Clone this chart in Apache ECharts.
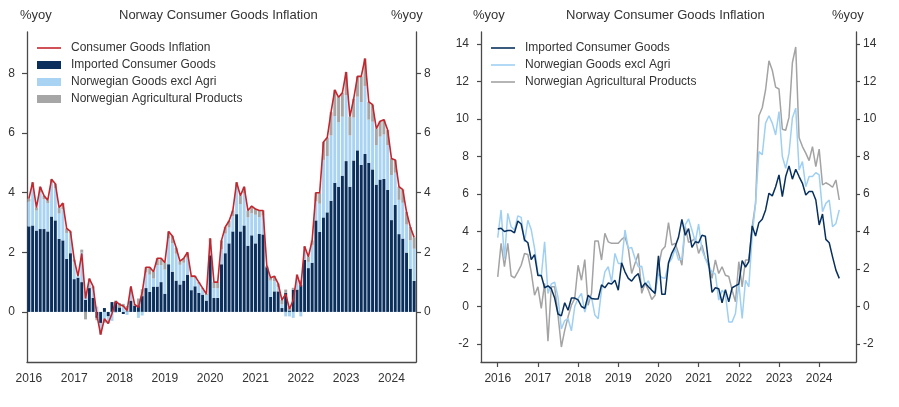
<!DOCTYPE html>
<html>
<head>
<meta charset="utf-8">
<script src="https://cdn.jsdelivr.net/npm/echarts@6/dist/echarts.min.js"></script>
<style>
  body { margin: 0; background: #fff; }
  #left { position: absolute; left: 0; top: 0; width: 450px; height: 407px; }
  #right { position: absolute; left: 450px; top: 0; width: 449px; height: 407px; }
</style>
</head>
<body>
<div id="left"></div>
<div id="right"></div>
<script>
// monthly, Jan 2016 .. Jul 2024
var years = [2016, 2017, 2018, 2019, 2020, 2021, 2022, 2023, 2024];
var padBefore = ['2015-08', '2015-09', '2015-10', '2015-11', '2015-12'];
var padAfter = ['2024-08', '2024-09', '2024-10', '2024-11', '2024-12'];

// left panel: contributions, %-points
var totalInfl = [
  3.8, 4.35, 3.5, 4.2, 3.9, 3.75, 4.45, 4.3, 3.5, 3.65, 2.8, 2.7,
  1.76, 1.2, 1.96, 0.45, 1.12, 0.86, -0.1, -0.76, -0.23, -0.39, -0.05, 0.35,
  0.25, 0.2, 0.05, 0.86, 0.25, 0.15, 0.65, 1.5, 1.5, 1.35, 1.8, 1.8,
  1.65, 2.7, 2.55, 2.15, 1.7, 1.8, 2.0, 1.2, 1.2, 1.0, 0.8, 0.6,
  2.47, 1.0, 1.0, 2.4, 2.85, 3.05, 3.4, 4.35, 3.9, 4.2, 3.4, 3.55,
  3.45, 3.4, 3.4, 1.55, 1.15, 1.2, 0.95, 0.4, 0.6, 0.1, 0.4, 1.25,
  0.85, 2.2, 1.85, 2.4, 4.0, 4.0, 5.7, 5.85, 6.7, 7.45, 7.2, 7.35,
  8.05, 6.55, 7.15, 7.9, 7.9, 8.5, 7.05, 6.95, 6.15, 6.4, 6.45, 6.1,
  5.15, 5.1, 4.2, 4.1, 3.35, 2.85, 2.5
];
var importedContrib = [
  2.87, 2.9, 2.73, 2.78, 2.78, 2.7, 3.2, 3.07, 2.45, 2.4, 1.78, 1.97,
  1.1, 1.15, 1.0, 0.4, 0.8, 0.47, -0.2, -0.37, 0.13, -0.15, 0.33, 0.35,
  0.15, -0.07, 0.02, 0.38, 0.2, 0.22, 0.53, 0.8, 0.67, 0.85, 0.85, 1.0,
  0.61, 1.6, 1.35, 1.05, 0.92, 1.05, 1.25, 0.73, 0.86, 0.64, 0.58, 0.38,
  1.9, 0.47, 0.47, 1.6, 1.97, 2.3, 2.7, 3.28, 2.7, 2.9, 2.22, 2.57,
  2.3, 2.62, 2.6, 1.5, 0.5, 0.69, 0.69, 0.13, 0.64, 0.05, 0.75, 0.75,
  0.9, 1.75, 1.47, 1.65, 3.07, 2.68, 3.17, 3.34, 3.73, 4.33, 4.2, 4.57,
  5.06, 4.2, 5.08, 5.42, 4.93, 5.3, 5.0, 4.78, 4.27, 4.44, 4.46, 4.09,
  3.08, 3.59, 2.61, 2.46, 1.99, 1.45, 1.04
];
var norwegianContrib = [
  0.83, 1.3, 0.67, 1.22, 1.0, 0.95, 1.13, 1.08, 0.85, 1.05, 0.87, 0.68,
  0.58, 0.05, 0.99, 0.3, 0.24, 0.31, 0.18, -0.24, -0.26, -0.19, -0.3, -0.03,
  0.0, 0.17, -0.1, 0.45, 0.0, -0.2, -0.12, 0.52, 0.58, 0.27, 0.72, 0.57,
  0.81, 0.86, 0.95, 0.9, 0.66, 0.6, 0.57, 0.42, 0.26, 0.3, 0.19, 0.18,
  0.43, 0.33, 0.32, 0.51, 0.66, 0.53, 0.51, 0.92, 0.92, 1.07, 0.95, 0.74,
  0.96, 0.56, 0.63, 0.0, 0.55, 0.34, 0.14, 0.13, -0.15, -0.15, -0.2, 0.48,
  -0.15, 0.38, 0.21, 0.58, 0.63, 0.95, 1.93, 1.89, 2.19, 2.24, 2.16, 1.98,
  2.21, 1.72, 1.44, 1.8, 2.11, 2.28, 1.45, 1.6, 1.33, 1.44, 1.49, 1.51,
  1.51, 1.08, 1.15, 1.2, 0.94, 0.95, 1.08
];
var agriContrib = [
  0.1, 0.15, 0.1, 0.2, 0.12, 0.1, 0.12, 0.15, 0.2, 0.2, 0.15, 0.05,
  0.08, 0.0, 0.1, -0.25, 0.08, 0.08, -0.08, -0.15, -0.1, -0.05, 0.0, 0.03,
  0.15, 0.1, 0.18, 0.0, 0.05, 0.23, 0.23, 0.18, 0.25, 0.23, 0.23, 0.23,
  0.23, 0.24, 0.25, 0.2, 0.12, 0.15, 0.18, 0.05, 0.08, 0.06, 0.03, 0.04,
  0.14, 0.2, 0.21, 0.29, 0.22, 0.22, 0.19, 0.15, 0.28, 0.23, 0.23, 0.24,
  0.19, 0.22, 0.17, 0.05, 0.1, 0.17, 0.12, 0.14, 0.11, 0.1, 0.06, 0.02,
  0.16, 0.07, 0.17, 0.17, 0.3, 0.37, 0.6, 0.62, 0.78, 0.88, 0.84, 0.8,
  0.78, 0.63, 0.63, 0.68, 0.86, 0.92, 0.6, 0.57, 0.55, 0.52, 0.5, 0.5,
  0.56, 0.43, 0.44, 0.44, 0.42, 0.45, 0.38
];

// right panel: component inflation, %yoy
var importedYoy = [
  4.13, 4.17, 4.0, 4.05, 4.05, 3.93, 4.56, 4.4, 3.55, 3.4, 2.5, 2.77,
  1.65, 1.65, 1.0, 1.1, 0.95, 0.45, -0.4, -0.5, 0.2, -0.2, 0.45, 0.45,
  0.35, 0.0, -0.1, 0.6, 0.43, 0.4, 0.4, 1.15, 1.0, 1.25, 1.2, 1.4,
  0.87, 2.33, 1.85, 1.5, 1.35, 1.6, 1.75, 1.0, 1.25, 1.05, 0.87, 0.7,
  2.7, 0.65, 0.65, 2.33, 2.85, 3.2, 3.7, 4.65, 3.8, 4.15, 3.15, 3.45,
  3.4, 3.8, 3.75, 2.3, 0.75, 1.0, 0.95, 0.2, 0.9, 0.25, 1.0, 1.1,
  1.2, 2.45, 2.1, 2.4, 4.3, 3.76, 4.47, 4.65, 5.15, 6.04, 5.9, 6.39,
  7.02, 5.86, 6.93, 7.5, 6.79, 7.32, 6.93, 6.57, 5.95, 6.13, 6.13, 5.68,
  4.35, 4.93, 3.58, 3.4, 2.65, 1.94, 1.5
];
var norwegianYoy = [
  3.67, 5.15, 2.55, 4.97, 4.25, 4.08, 4.83, 4.75, 3.45, 4.6, 4.1, 3.1,
  1.75, 1.6, 3.45, 0.7, 1.2, 1.3, 0.5, -1.2, -0.75, -0.65, -1.3, 0.0,
  0.43, 0.7, -0.3, 0.38, 0.5, -0.45, -0.65, 0.87, 1.85, 2.12, 1.3, 2.83,
  2.3, 2.3, 4.08, 3.1, 3.15, 2.56, 2.12, 2.15, 1.14, 1.37, 0.87, 0.7,
  1.76, 1.55, 1.5, 2.3, 2.56, 3.1, 2.48, 2.56, 4.35, 4.67, 4.08, 3.45,
  4.4, 3.0, 2.56, 2.12, 1.85, 1.73, 0.34, 0.87, 0.64, -0.82, -0.82, -0.37,
  1.23, -0.64, 1.4, 1.05, 3.8, 5.5, 8.26, 8.09, 9.78, 10.17, 9.78, 9.15,
  10.4, 8.0, 7.37, 8.18, 10.05, 10.58, 7.28, 7.73, 6.39, 6.93, 6.93, 7.14,
  7.02, 5.06, 5.5, 5.68, 4.25, 4.43, 5.15
];
var agriYoy = [
  1.58, 3.37, 2.12, 3.37, 1.64, 1.53, 1.85, 2.2, 2.83, 2.77, 1.85, 0.6,
  1.05, -0.1, 1.23, -1.85, 1.05, 1.05, -0.46, -2.16, -1.27, -0.55, 0.07, 0.43,
  2.2, 1.4, 2.5, 0.07, 0.7, 3.5, 3.5, 2.48, 3.9, 3.45, 3.37, 3.37,
  3.37, 3.58, 3.72, 3.1, 1.76, 2.3, 2.83, 0.7, 1.23, 0.87, 0.37, 0.6,
  2.12, 3.0, 3.2, 4.47, 3.28, 3.37, 2.83, 2.2, 4.26, 3.42, 3.5, 3.63,
  2.83, 3.28, 2.56, 2.3, 1.5, 2.48, 1.76, 2.12, 1.67, 1.6, 0.87, 0.25,
  2.39, 1.05, 2.48, 2.48, 4.26, 5.5, 10.17, 10.6, 11.56, 13.1, 12.6, 11.7,
  11.6, 9.45, 9.4, 10.1, 13.0, 13.84, 9.0, 8.53, 8.18, 7.78, 8.53, 7.46,
  8.39, 6.48, 6.6, 6.5, 6.36, 6.75, 5.68
];

var months = [];
years.forEach(function (y) {
  for (var m = 1; m <= 12; m++) months.push(y + '-' + (m < 10 ? '0' + m : m));
});
months = months.slice(0, totalInfl.length);
var monthsWide = padBefore.concat(months, padAfter);
function pad(arr) {
  return padBefore.map(function () { return '-'; }).concat(arr, padAfter.map(function () { return '-'; }));
}

var FONT = '"Liberation Sans", Arial, sans-serif';
var AXIS = '#4a4a4a';
var TXT = '#333';
function isJan(i, v) { return String(v).slice(5) === '01'; }

function xAxisOf(data, gap) {
  return {
    type: 'category', data: data, boundaryGap: gap,
    axisLine: { onZero: false, lineStyle: { color: AXIS, width: 1.3 } },
    axisTick: { alignWithLabel: true, interval: isJan, length: 5, lineStyle: { color: AXIS, width: 1.2 } },
    axisLabel: { interval: isJan, formatter: function (v) { return v.slice(0, 4); },
                 margin: 11, color: TXT, fontSize: 12, fontFamily: FONT },
    splitLine: { show: false }
  };
}
function yAxisOf(min, max, split, side, margin, tick) {
  return {
    type: 'value', min: min, max: max, splitNumber: split, position: side,
    axisLine: { show: true, lineStyle: { color: AXIS, width: 1.3 } },
    axisTick: { show: true, length: tick, lineStyle: { color: AXIS, width: 1.2 } },
    axisLabel: { margin: margin, color: TXT, fontSize: 12, fontFamily: FONT,
                 showMinLabel: false, showMaxLabel: false,
                 formatter: function (v) { return Math.abs(v - Math.round(v)) < 1e-6 ? String(Math.round(v)) : ''; } },
    splitLine: { show: false }
  };
}
function headers(leftX, centerX, rightX) {
  var st = { fill: TXT, font: '13px ' + FONT };
  return [
    { type: 'text', left: leftX, top: 9, style: Object.assign({ text: '%yoy' }, st) },
    { type: 'text', left: centerX, top: 9, style: Object.assign({ text: 'Norway Consumer Goods Inflation' }, st) },
    { type: 'text', left: rightX, top: 9, style: Object.assign({ text: '%yoy' }, st) }
  ];
}
var legendText = { color: TXT, fontSize: 12, padding: [0, 0, 0, 5] };

var left = echarts.init(document.getElementById('left'));
left.setOption({
  animation: false,
  textStyle: { fontFamily: FONT },
  graphic: headers(20, 119, 391),
  grid: { left: 27, top: 32, width: 389, height: 330 },
  legend: [{
    orient: 'vertical', left: 37, top: 42, padding: 0, itemWidth: 24, itemHeight: 1.6,
    textStyle: legendText,
    data: [{ name: 'Consumer Goods Inflation', icon: 'rect' }]
  }, {
    orient: 'vertical', left: 37, top: 59, padding: 0, itemWidth: 24, itemHeight: 8, itemGap: 5,
    textStyle: legendText,
    data: [
      { name: 'Imported Consumer Goods', icon: 'rect' },
      { name: 'Norwegian Goods excl Agri', icon: 'rect' },
      { name: 'Norwegian Agricultural Products', icon: 'rect' }
    ]
  }],
  xAxis: xAxisOf(months, true),
  yAxis: [yAxisOf(-1.68, 9.39, 5, 'left', 12, 5), yAxisOf(-1.68, 9.39, 5, 'right', 8, 5)],
  series: [
    { name: 'Imported Consumer Goods', type: 'bar', stack: 'c', barCategoryGap: '22%',
      itemStyle: { color: '#0a2f5c' }, data: importedContrib },
    { name: 'Norwegian Goods excl Agri', type: 'bar', stack: 'c',
      itemStyle: { color: '#a9d3f2' }, data: norwegianContrib },
    { name: 'Norwegian Agricultural Products', type: 'bar', stack: 'c',
      itemStyle: { color: '#a6a6a6' }, data: agriContrib },
    { name: 'Consumer Goods Inflation', type: 'line', symbol: 'none', z: 5,
      lineStyle: { color: '#c4262e', width: 1.6 }, itemStyle: { color: '#c4262e' }, data: totalInfl }
  ]
});

var right = echarts.init(document.getElementById('right'));
right.setOption({
  animation: false,
  textStyle: { fontFamily: FONT },
  graphic: headers(23, 116, 382),
  grid: { left: 31, top: 32, right: 43, height: 330 },
  legend: {
    orient: 'vertical', left: 41, top: 42, padding: 0, itemWidth: 24, itemHeight: 1.6, itemGap: 5,
    textStyle: legendText,
    data: [
      { name: 'Imported Consumer Goods', icon: 'rect' },
      { name: 'Norwegian Goods excl Agri', icon: 'rect' },
      { name: 'Norwegian Agricultural Products', icon: 'rect' }
    ]
  },
  xAxis: xAxisOf(monthsWide, false),
  yAxis: [yAxisOf(-2.96, 14.64, 9, 'left', 12, 4), yAxisOf(-2.96, 14.64, 9, 'right', 7, 4)],
  series: [
    { name: 'Norwegian Agricultural Products', type: 'line', symbol: 'none', z: 2,
      lineStyle: { color: '#a3a3a3', width: 1.5 }, itemStyle: { color: '#a3a3a3' }, data: pad(agriYoy) },
    { name: 'Norwegian Goods excl Agri', type: 'line', symbol: 'none', z: 3,
      lineStyle: { color: '#9fd0f3', width: 1.5 }, itemStyle: { color: '#9fd0f3' }, data: pad(norwegianYoy) },
    { name: 'Imported Consumer Goods', type: 'line', symbol: 'none', z: 4,
      lineStyle: { color: '#08305e', width: 1.5 }, itemStyle: { color: '#08305e' }, data: pad(importedYoy) }
  ]
});
</script>
</body>
</html>
